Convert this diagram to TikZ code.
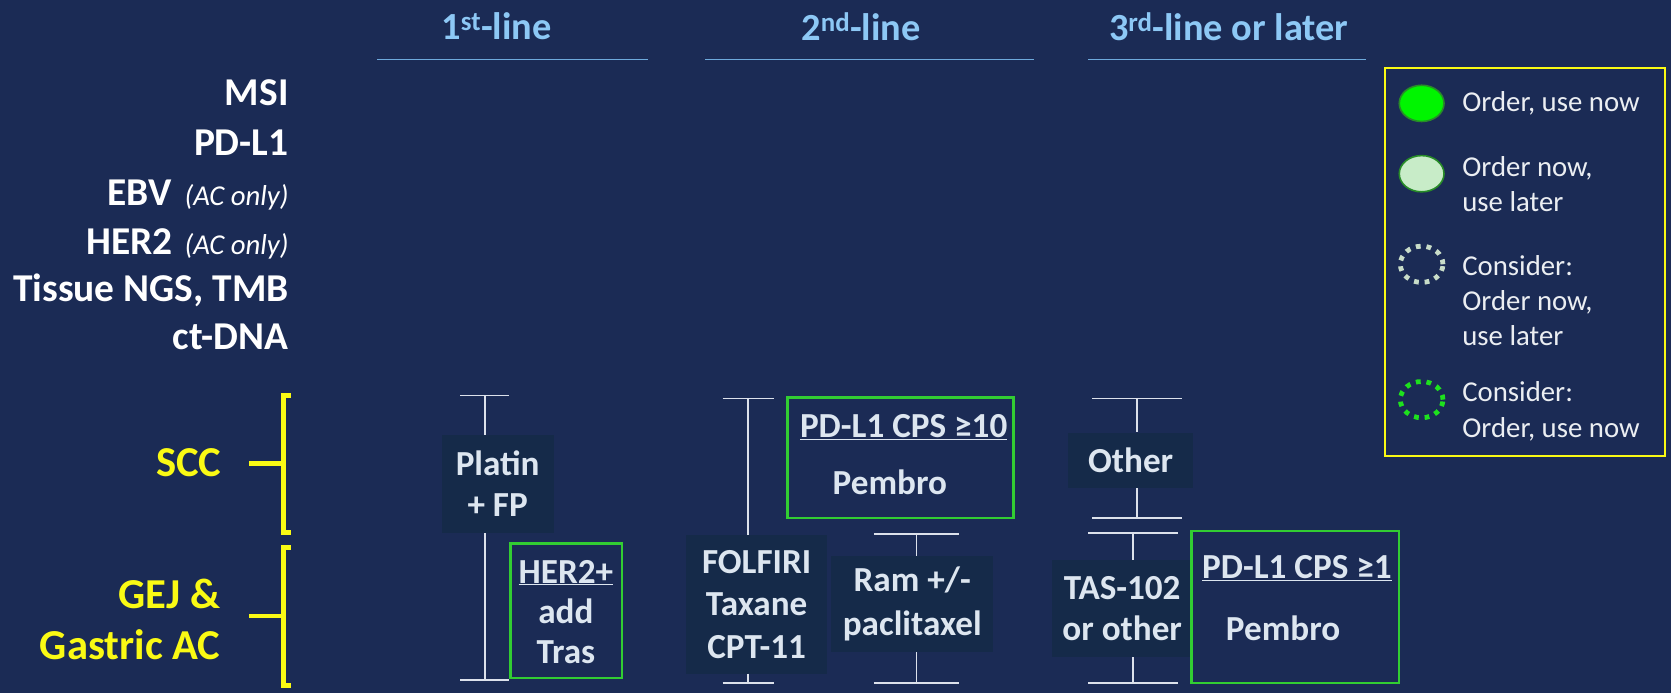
\documentclass[tikz,border=0pt]{standalone}
\usepackage{fontspec}
\setmainfont{Carlito}
\usetikzlibrary{shapes.geometric}
\definecolor{bg}{RGB}{27,43,85}
\definecolor{boxfill}{RGB}{21,42,73}
\definecolor{boxtext}{RGB}{221,230,240}
\definecolor{hdrblue}{RGB}{141,200,245}
\definecolor{hdrline}{RGB}{110,170,220}
\definecolor{ibeam}{RGB}{220,225,235}
\definecolor{gborder}{RGB}{50,205,50}
\definecolor{yel}{RGB}{250,250,20}
\definecolor{legtext}{RGB}{235,238,242}
\definecolor{brightgreen}{RGB}{0,245,0}
\definecolor{darkgreen}{RGB}{40,140,40}
\definecolor{palegreen}{RGB}{200,236,200}
\definecolor{dotgrey}{RGB}{200,220,200}
\definecolor{dotgreen}{RGB}{30,225,30}
\begin{document}
\begin{tikzpicture}[x=1pt,y=-1pt,
  hdr/.style={text=hdrblue, font=\bfseries\fontsize{36}{43}\selectfont, inner sep=0pt},
  hline/.style={draw=hdrline, line width=1.2pt},
  lab/.style={anchor=base east, text=white, font=\bfseries\fontsize{37}{44}\selectfont, inner sep=0pt},
  ylab/.style={anchor=base east, text=yel, font=\bfseries\fontsize{40}{47}\selectfont, inner sep=0pt, align=right},
  brk/.style={draw=yel, line width=4.5pt},
  tb/.style={fill=boxfill, text=boxtext, align=center, inner sep=0pt},
  gbox/.style={draw=gborder, line width=2pt, inner sep=0pt},
  gtext/.style={text=boxtext, font=\bfseries\fontsize{33}{40}\selectfont, inner sep=0pt},
  ib/.style={draw=ibeam, line width=1.5pt},
  legtxt/.style={anchor=west, text=legtext, font=\fontsize{27}{33}\selectfont, align=left, inner sep=0pt},
  legell/.style={ellipse, minimum width=42pt, minimum height=34pt, inner sep=0pt},
  dotell/.style={ellipse, minimum width=40pt, minimum height=34pt, inner sep=0pt, line width=4.5pt, dash pattern=on 4.5pt off 5.5pt}
]
\fill[bg] (0,0) rectangle (1568,650);
\useasboundingbox (0,0) rectangle (1568,650);

% headers
\node[hdr] (h1) at (466,25) {1\textsuperscript{st}-line};
\node[hdr] (h2) at (808,25) {2\textsuperscript{nd}-line};
\node[hdr] (h3) at (1153,25) {3\textsuperscript{rd}-line or later};
\coordinate (u1a) at (354,56); \coordinate (u1b) at (608,56);
\coordinate (u2a) at (662,56); \coordinate (u2b) at (970,56);
\coordinate (u3a) at (1021,56); \coordinate (u3b) at (1282,56);
\draw[hline] (u1a) -- (u1b);
\draw[hline] (u2a) -- (u2b);
\draw[hline] (u3a) -- (u3b);

% left labels
\node[lab] (msi) at (271,99) {MSI};
\node[lab] (pdl1) at (271,146) {PD-L1};
\node[lab] (ebv) at (271,193) {EBV\hspace{4pt} {\normalfont\itshape\fontsize{27}{32}\selectfont (AC only)}};
\node[lab] (her2) at (271,239) {HER2\hspace{3pt} {\normalfont\itshape\fontsize{27}{32}\selectfont (AC only)}};
\node[lab] (ngs) at (271,283) {Tissue NGS, TMB};
\node[lab] (ctdna) at (271,328) {ct-DNA};

% tumour types
\node[ylab] (scc) at (208,447) {SCC};
\node[ylab] (gej) at (207,571) {GEJ \&};
\node[ylab] (gastric) at (207,619) {Gastric AC};
\coordinate (b1) at (266,435);
\coordinate (b2) at (266,578);
\draw[brk] (234,435) -- (b1);
\draw[brk, line cap=butt] (273,371) -- (266,371) -- (266,500) -- (273,500);
\draw[brk] (234,578) -- (b2);
\draw[brk, line cap=butt] (273,514) -- (266,514) -- (266,643) -- (273,643);

% 1st line
\node[tb, minimum width=105pt, minimum height=92pt, font=\bfseries\fontsize{33}{39}\selectfont] (platin) at (467,454) {Platin\\+ FP};
\coordinate (p1t) at (455,371);
\coordinate (p1b) at (455,638);
\draw[ib] ([xshift=-23pt]p1t) -- ([xshift=23pt]p1t);
\draw[ib] ([xshift=-23pt]p1b) -- ([xshift=23pt]p1b);
\draw[ib] (p1t) -- (p1t |- platin.north);
\draw[ib] (p1b |- platin.south) -- (p1b);
\node[gbox, minimum width=105pt, minimum height=126pt] (her2box) at (531.5,573) {};
\node[gtext, align=center, font=\bfseries\fontsize{33}{37.5}\selectfont] (her2txt) at (531,574) {\underline{HER2+}\\add\\Tras};

% 2nd line
\node[tb, minimum width=132pt, minimum height=130pt, font=\bfseries\fontsize{33}{40}\selectfont] (folfiri) at (710,567) {FOLFIRI\\Taxane\\CPT-11};
\coordinate (f2t) at (702,374);
\coordinate (f2b) at (702,641);
\draw[ib] ([xshift=-24pt]f2t) -- ([xshift=24pt]f2t);
\draw[ib] ([xshift=-24pt]f2b) -- ([xshift=24pt]f2b);
\draw[ib] (f2t) -- (f2t |- folfiri.north);
\draw[ib] (f2b |- folfiri.south) -- (f2b);

\node[gbox, minimum width=212pt, minimum height=113pt] (pd10box) at (845,429.5) {};
\node[gtext] (pd10t) at (848,401) {\underline{PD-L1 CPS ≥10}};
\node[gtext] (pd10p) at (835,453) {Pembro};

\node[tb, minimum width=152pt, minimum height=90pt, font=\bfseries\fontsize{33}{41}\selectfont] (ram) at (856,567) {Ram +/-\\paclitaxel};
\coordinate (r2t) at (860,501);
\coordinate (r2b) at (860,641);
\draw[ib] ([xshift=-40pt]r2t) -- ([xshift=40pt]r2t);
\draw[ib] ([xshift=-40pt]r2b) -- ([xshift=40pt]r2b);
\draw[ib] (r2t) -- (r2t |- ram.north);
\draw[ib] (r2b |- ram.south) -- (r2b);

% 3rd line
\node[tb, minimum width=117pt, minimum height=52pt, font=\bfseries\fontsize{33}{40}\selectfont] (other) at (1061,432) {Other};
\coordinate (o3t) at (1067,374);
\coordinate (o3b) at (1067,486);
\draw[ib] ([xshift=-42pt]o3t) -- ([xshift=42pt]o3t);
\draw[ib] ([xshift=-42pt]o3b) -- ([xshift=42pt]o3b);
\draw[ib] (o3t) -- (o3t |- other.north);
\draw[ib] (o3b |- other.south) -- (o3b);

\node[tb, minimum width=131pt, minimum height=91pt, font=\bfseries\fontsize{33}{39}\selectfont] (tas) at (1053,571) {TAS-102\\or other};
\coordinate (t3t) at (1063,500);
\coordinate (t3b) at (1063,641);
\draw[ib] ([xshift=-42pt]t3t) -- ([xshift=42pt]t3t);
\draw[ib] ([xshift=-42pt]t3b) -- ([xshift=42pt]t3b);
\draw[ib] (t3t) -- (t3t |- tas.north);
\draw[ib] (t3b |- tas.south) -- (t3b);

\node[gbox, minimum width=195pt, minimum height=143pt] (pd1box) at (1215.5,569.5) {};
\node[gtext] (pd1t) at (1217,533) {\underline{PD-L1 CPS ≥1}};
\node[gtext] (pd1p) at (1204,590) {Pembro};

% legend
\node[draw=yel, line width=2pt, minimum width=262pt, minimum height=364pt, inner sep=0pt] (legend) at (1431,246) {};
\node[legell, fill=brightgreen, draw=darkgreen, line width=1.5pt] (e1) at (1334,97) {};
\node[legell, fill=palegreen, draw=darkgreen, line width=1.5pt] (e2) at (1334,163) {};
\node[dotell, draw=dotgrey] (e3) at (1334,248) {};
\node[dotell, draw=dotgreen] (e4) at (1334,375) {};
\node[legtxt] (l1) at (1372,97) {Order, use now};
\node[legtxt] (l2) at (1372,173) {Order now,\\use later};
\node[legtxt] (l3) at (1372,282) {Consider:\\Order now,\\use later};
\node[legtxt] (l4) at (1372,386) {Consider:\\Order, use now};
\end{tikzpicture}
\end{document}
